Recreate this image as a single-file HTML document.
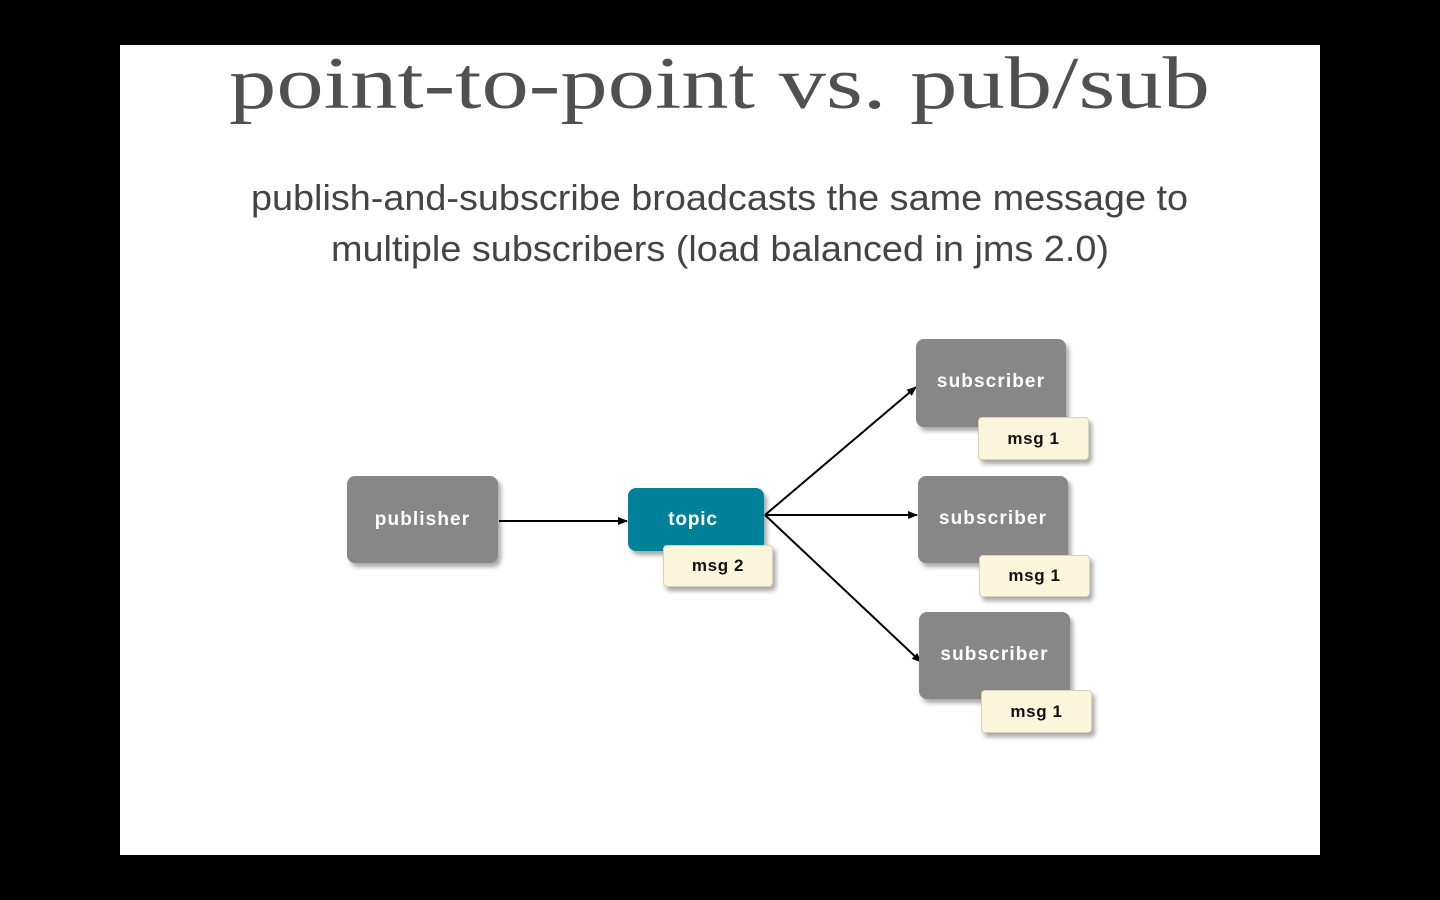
<!DOCTYPE html>
<html><head><style>
html,body{margin:0;padding:0;background:#000;width:1440px;height:900px;overflow:hidden}
.box{position:absolute;border-radius:8px;box-shadow:3px 4px 5px rgba(0,0,0,.35);font-family:"Liberation Sans",sans-serif;font-weight:bold;display:flex;align-items:center;justify-content:center}
.g{background:#878787;color:#fff;font-size:19px;letter-spacing:1.1px}
.t{background:#00819a;color:#fff;font-size:19px;letter-spacing:0.8px}
.m{background:#fbf5dc;color:#111;font-size:17px;border-radius:4px;border:1px solid #d8d2b8;letter-spacing:0.6px}
</style></head><body>
<div style="position:absolute;left:120px;top:45px;width:1200px;height:810px;background:#fff"></div>
<svg style="position:absolute;left:0;top:0" width="1440" height="900">
<text x="229" y="108" font-family="Liberation Serif,serif" font-size="74" fill="#505050" textLength="981" lengthAdjust="spacingAndGlyphs">point-to-point vs. pub/sub</text>
<text x="251" y="210" font-family="Liberation Sans,sans-serif" font-size="36" fill="#444" textLength="937" lengthAdjust="spacingAndGlyphs">publish-and-subscribe broadcasts the same message to</text>
<text x="331" y="261" font-family="Liberation Sans,sans-serif" font-size="36" fill="#444" textLength="778" lengthAdjust="spacingAndGlyphs">multiple subscribers (load balanced in jms 2.0)</text>
<defs><marker id="a" markerWidth="10" markerHeight="8" refX="9" refY="4" orient="auto" markerUnits="userSpaceOnUse"><path d="M0,0 L10,4 L0,8 z" fill="#000"/></marker></defs>
<g stroke="#000" stroke-width="2" marker-end="url(#a)">
<line x1="499" y1="521" x2="627" y2="521"/>
<line x1="765" y1="515" x2="916" y2="387"/>
<line x1="765" y1="515" x2="917" y2="515"/>
<line x1="765" y1="515" x2="921" y2="662"/>
</g>
</svg>
<div class="box g" style="left:347px;top:476px;width:151px;height:87px">publisher</div>
<div class="box t" style="left:628px;top:488px;width:136px;height:63px;padding-right:6px;box-sizing:border-box">topic</div>
<div class="box m" style="left:663px;top:545px;width:110px;height:42px;box-sizing:border-box">msg 2</div>
<div class="box g" style="left:916px;top:339px;width:150px;height:88px;align-items:flex-start;padding-top:32px;box-sizing:border-box">subscriber</div>
<div class="box m" style="left:978px;top:417px;width:111px;height:43px;box-sizing:border-box">msg 1</div>
<div class="box g" style="left:918px;top:476px;width:150px;height:87px;align-items:flex-start;padding-top:32px;box-sizing:border-box">subscriber</div>
<div class="box m" style="left:979px;top:555px;width:111px;height:42px;box-sizing:border-box">msg 1</div>
<div class="box g" style="left:919px;top:612px;width:151px;height:87px;align-items:flex-start;padding-top:32px;box-sizing:border-box">subscriber</div>
<div class="box m" style="left:981px;top:690px;width:111px;height:43px;box-sizing:border-box">msg 1</div>
</body></html>
